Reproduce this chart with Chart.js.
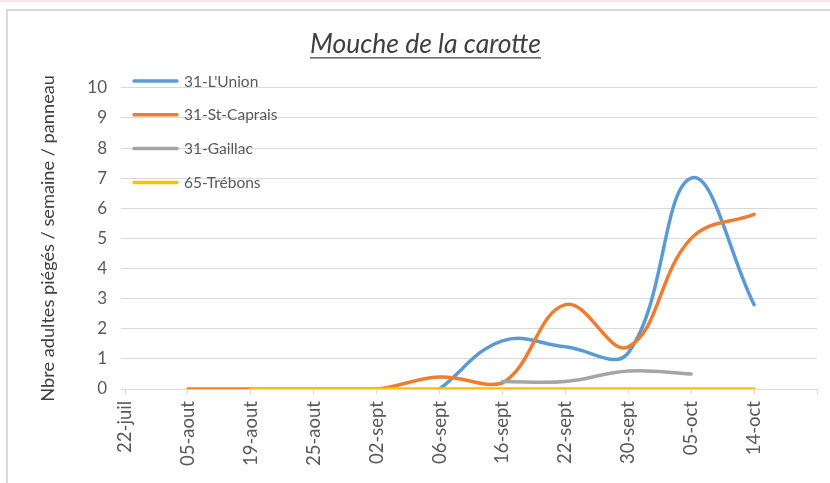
<!DOCTYPE html>
<html><head><meta charset="utf-8">
<script src="https://cdn.jsdelivr.net/npm/chart.js@4"></script>
<style>
html,body{margin:0;padding:0;background:#fff;width:830px;height:483px;overflow:hidden}
#pink{position:absolute;left:0;top:0;width:830px;height:2px;background:#fde4ec}
#frame{position:absolute;left:6px;top:9px;width:900px;height:600px;border-left:2px solid #d9d9d9;border-top:2px solid #d9d9d9}
canvas{position:absolute;left:0;top:0}
</style></head><body>
<div id="pink"></div><div id="frame"></div>
<canvas id="c" width="830" height="483"></canvas>
<script>
const categories = ['22-juil','05-aout','19-aout','25-aout','02-sept','06-sept','16-sept','22-sept','30-sept','05-oct','14-oct',''];
const seriesNames = ["31-L'Union", "31-St-Caprais", "31-Gaillac", "65-Trébons"];
const unionValues     = [null, null, null, null, null, 0,   1.6,  1.4,  1.2, 7.0, 2.8, null];
const stCapraisValues = [null, 0,    0,    0,    0,    0.4, 0.2,  2.8,  1.4, 5.0, 5.8, null];
const gaillacValues   = [null, null, null, null, null, null, 0.25, 0.25, 0.6, 0.5, null, null];
const trebonsValues   = [null, null, 0,    0,    0,    0,   0,    0,    0,   0,   0,   null];
const seriesColors = ['#5B9BD5', '#ED7D31', '#A5A5A5', '#FFC000'];
const yMin = 0, yMax = 10, yStep = 1;
const chartTitle = 'Mouche de la carotte';
const yAxisTitle = 'Nbre adultes piégés / semaine / panneau';

const FONT = 'Lato';
const TITLE_SIZE = 26.5;

const insideLegend = {
  id: 'insideLegend',
  afterDatasetsDraw(chart) {
    const ctx = chart.ctx;
    ctx.save();
    ctx.font = '15.5px ' + FONT;
    ctx.textBaseline = 'middle';
    ctx.textAlign = 'left';
    chart.data.datasets.forEach((ds, i) => {
      const y = 81 + i * 33.8;
      ctx.strokeStyle = ds.borderColor;
      ctx.lineWidth = 3.5;
      ctx.lineCap = 'round';
      ctx.beginPath();
      ctx.moveTo(134, y);
      ctx.lineTo(177, y);
      ctx.stroke();
      ctx.fillStyle = '#595959';
      ctx.fillText(ds.label, 184, y + 0.5);
    });
    ctx.restore();
  }
};

const titleUnderline = {
  id: 'titleUnderline',
  afterDraw(chart) {
    const tb = chart.titleBlock;
    if (!tb) return;
    const ctx = chart.ctx;
    const opts = chart.options.plugins.title;
    ctx.save();
    ctx.font = 'italic ' + TITLE_SIZE + 'px ' + FONT;
    const w = ctx.measureText(opts.text).width;
    const cx = tb.left + tb.width / 2;
    const y = tb.top + opts.padding.top + TITLE_SIZE * 0.6 + 13;
    ctx.strokeStyle = '#404040';
    ctx.lineWidth = 1.4;
    ctx.beginPath();
    ctx.moveTo(cx - w / 2, y);
    ctx.lineTo(cx + w / 2, y);
    ctx.stroke();
    ctx.restore();
  }
};

const vals = [unionValues, stCapraisValues, gaillacValues, trebonsValues];
const datasets = seriesNames.map((name, i) => ({
  label: name,
  data: vals[i],
  borderColor: seriesColors[i],
  backgroundColor: seriesColors[i],
  borderWidth: 3.5,
  pointRadius: 0,
  pointHoverRadius: 0,
  tension: 0.4,
  fill: false,
  spanGaps: false,
  order: 4 - i,
  borderCapStyle: 'round'
}));

new Chart(document.getElementById('c'), {
  type: 'line',
  data: { labels: categories, datasets },
  plugins: [insideLegend, titleUnderline],
  options: {
    responsive: false,
    animation: false,
    layout: { padding: { left: 34, right: 13, top: 0, bottom: 0 } },
    plugins: {
      legend: { display: false },
      tooltip: { enabled: false },
      title: {
        display: true,
        text: chartTitle,
        color: '#404040',
        font: { family: FONT, size: TITLE_SIZE, style: 'italic', weight: 'normal' },
        padding: { top: 29, bottom: 27 }
      }
    },
    scales: {
      x: {
        offset: false,
        grid: { drawOnChartArea: false, drawTicks: true, tickLength: 5, color: '#d9d9d9' },
        border: { display: true, color: '#d9d9d9' },
        ticks: { autoSkip: false, maxRotation: 90, minRotation: 90, padding: 7, color: '#595959', font: { family: FONT, size: 18.5 } },
        afterFit(scale) { scale.height = 94; scale.paddingLeft = 0; scale.paddingRight = 0; }
      },
      y: {
        min: yMin, max: yMax,
        grid: { color: '#d9d9d9', tickLength: 4, drawTicks: true },
        border: { display: false },
        ticks: { stepSize: yStep, padding: 14, color: '#595959', font: { family: FONT, size: 17 } },
        title: { display: true, text: yAxisTitle, color: '#404040', font: { family: FONT, size: 18.2 }, padding: { top: 3, bottom: 0 } },
        afterFit(scale) { scale.width = 91; }
      }
    }
  }
});
</script>
</body></html>
